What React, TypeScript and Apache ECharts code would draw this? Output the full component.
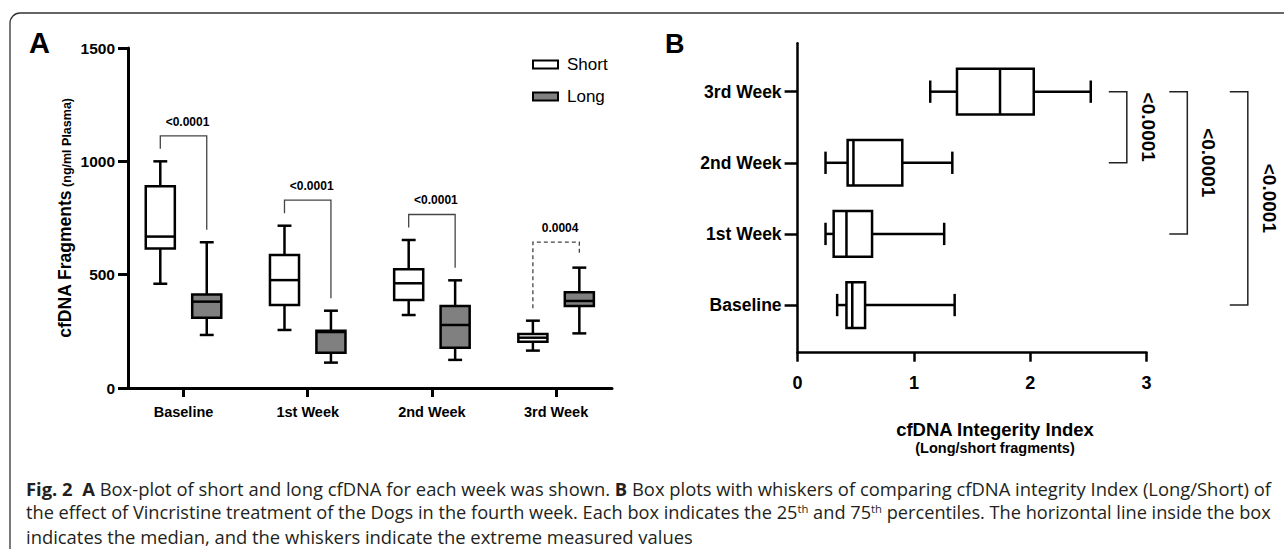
import React, { useEffect, useRef } from 'react';
import * as echarts from 'echarts';

// ---------- data ----------
const weeks = ['Baseline', '1st Week', '2nd Week', '3rd Week'];
const fragmentTicks = { min: 0, max: 1500, step: 500 };
// [min, Q1, median, Q3, max]  (ng/ml plasma)
const shortStats = [
  [460, 615, 668, 890, 1000],
  [256, 366, 476, 587, 716],
  [322, 388, 462, 524, 653],
  [165, 204, 222, 238, 297],
];
const longStats = [
  [234, 310, 381, 413, 643],
  [112, 156, 247, 253, 341],
  [124, 178, 278, 362, 475],
  [241, 362, 384, 422, 531],
];
const pValuesA = ['<0.0001', '<0.0001', '<0.0001', '0.0004'];

// cfDNA integrity index [min, Q1, median, Q3, max]
const integrityStats = [
  [0.34, 0.42, 0.47, 0.58, 1.35],
  [0.24, 0.31, 0.42, 0.64, 1.26],
  [0.24, 0.43, 0.48, 0.9, 1.33],
  [1.14, 1.37, 1.74, 2.03, 2.52],
];
const integrityTicks = [0, 1, 2, 3];
const comparisonsB = [
  [3, 2],
  [3, 1],
  [3, 0],
];
const pValuesB = ['<0.0001', '<0.0001', '<0.0001'];

const captionLines = [
  '{b|Fig. 2}  {b|A} Box-plot of short and long cfDNA for each week was shown. {b|B} Box plots with whiskers of comparing cfDNA integrity Index (Long/Short) of',
  'the effect of Vincristine treatment of the Dogs in the fourth week. Each box indicates the 25{s|th} and 75{s|th} percentiles. The horizontal line inside the box',
  'indicates the median, and the whiskers indicate the extreme measured values',
];

// ---------- styles ----------
const FONT = '"Liberation Sans", Arial, Helvetica, sans-serif';
const CAP_FONT = '"Open Sans", "Noto Sans", sans-serif';
const SUP = 0.62;
const catIdx = weeks.map((_, i) => i);

function boxRenderer(horizontal: boolean, offset: number, halfW: number, capHalf: number, fill: string, lw: number) {
  return (params: any, api: any) => {
    const c = api.value(0) + offset;
    const v = [1, 2, 3, 4, 5].map((i) => api.value(i));
    const P = (pos: number, val: number) => (horizontal ? api.coord([val, pos]) : api.coord([pos, val]));
    const line = (a: number[], b: number[]) => ({
      type: 'line',
      shape: { x1: a[0], y1: a[1], x2: b[0], y2: b[1] },
      style: { stroke: '#000', lineWidth: lw },
    });
    const a = P(c - halfW, v[1]);
    const b = P(c + halfW, v[3]);
    return {
      type: 'group',
      children: [
        line(P(c, v[0]), P(c, v[1])),
        line(P(c, v[3]), P(c, v[4])),
        line(P(c - capHalf, v[0]), P(c + capHalf, v[0])),
        line(P(c - capHalf, v[4]), P(c + capHalf, v[4])),
        {
          type: 'rect',
          shape: {
            x: Math.min(a[0], b[0]),
            y: Math.min(a[1], b[1]),
            width: Math.abs(b[0] - a[0]),
            height: Math.abs(b[1] - a[1]),
          },
          style: { fill, stroke: '#000', lineWidth: lw },
        },
        line(P(c - halfW, v[2]), P(c + halfW, v[2])),
      ],
    };
  };
}

const OFF_A = 0.187;

function bracketARenderer(params: any, api: any) {
  const i = params.dataIndex;
  const c = api.value(0);
  const pS = api.coord([c - OFF_A, api.value(1)]);
  const pL = api.coord([c + OFF_A, api.value(2)]);
  const yS = pS[1] - 12.5;
  const yL = pL[1] - 12.5;
  const top = Math.min(yS, yL) - 13;
  const label = pValuesA[i];
  const dashed = !label.startsWith('<');
  return {
    type: 'group',
    children: [
      {
        type: 'polyline',
        shape: { points: [[pS[0], yS], [pS[0], top], [pL[0], top], [pL[0], yL]] },
        style: { stroke: '#444', lineWidth: 1.3, fill: 'none', lineDash: dashed ? [4, 3] : null },
      },
      {
        type: 'text',
        x: (pS[0] + pL[0]) / 2 + 4,
        y: top - 14,
        style: {
          text: label,
          align: 'center',
          verticalAlign: 'middle',
          fontFamily: FONT,
          fontWeight: 'bold',
          fontSize: 12,
          fill: '#000',
        },
      },
    ],
  };
}

function bracketBRenderer(params: any, api: any) {
  const i = params.dataIndex;
  const from = api.value(0);
  const to = api.value(1);
  const xr = 2.83 + 0.52 * i;
  const xl = xr - 0.155;
  const xt = xr + 0.185;
  const pTopL = api.coord([xl, from]);
  const pTopR = api.coord([xr, from]);
  const pBotR = api.coord([xr, to]);
  const pBotL = api.coord([xl, to]);
  const pText = api.coord([xt, (from + to) / 2]);
  return {
    type: 'group',
    children: [
      {
        type: 'polyline',
        shape: { points: [pTopL, pTopR, pBotR, pBotL] },
        style: { stroke: '#222', lineWidth: 1.5, fill: 'none' },
      },
      {
        type: 'text',
        x: pText[0],
        y: pText[1],
        rotation: -Math.PI / 2,
        style: {
          text: pValuesB[i],
          align: 'center',
          verticalAlign: 'middle',
          fontFamily: FONT,
          fontWeight: 'bold',
          fontSize: 19,
          fill: '#000',
        },
      },
    ],
  };
}

// font size at which a rich caption line fills the target width
function fitSize(line: string, target: number): number {
  try {
    const ctx = document.createElement('canvas').getContext('2d');
    if (!ctx) return 16;
    let width = 0;
    const re = /\{(\w)\|([^}]*)\}|([^{]+)/g;
    let m: RegExpExecArray | null;
    while ((m = re.exec(line))) {
      if (m[3]) {
        ctx.font = `normal 16px ${CAP_FONT}`;
        width += ctx.measureText(m[3]).width;
      } else if (m[1] === 'b') {
        ctx.font = `bold 16px ${CAP_FONT}`;
        width += ctx.measureText(m[2]).width;
      } else {
        ctx.font = `normal ${16 * SUP}px ${CAP_FONT}`;
        width += ctx.measureText(m[2]).width;
      }
    }
    return width > 0 ? (16 * target) / width : 16;
  } catch (e) {
    return 16;
  }
}

export default function App() {
  const ref = useRef<HTMLDivElement>(null);
  useEffect(() => {
    if (!ref.current) return;
    const chart = echarts.init(ref.current, undefined, { renderer: 'svg' });
    const s1 = fitSize(captionLines[0], 1246);
    const s2 = fitSize(captionLines[1], 1246);
    const sizes = [s1, s2, s1];
    const option: any = {
      animation: false,
      backgroundColor: '#fff',
      legend: {
        orient: 'vertical',
        left: 527,
        top: 51,
        itemWidth: 25,
        itemHeight: 8,
        itemGap: 15,
        icon: 'rect',
        selectedMode: false,
        textStyle: { fontFamily: FONT, fontSize: 17, color: '#000', padding: [0, 0, 0, 4] },
        data: [
          { name: 'Short', itemStyle: { color: '#fff', borderColor: '#000', borderWidth: 2 } },
          { name: 'Long', itemStyle: { color: '#808080', borderColor: '#000', borderWidth: 2 } },
        ],
      },
      grid: [
        { left: 128, top: 48, width: 484, height: 340, containLabel: false, outerBoundsMode: 'none' },
        { left: 797.6, top: 43.3, width: 349, height: 309.4, containLabel: false, outerBoundsMode: 'none' },
      ],
      xAxis: [
        {
          gridIndex: 0,
          type: 'value',
          min: -0.447,
          max: 3.45,
          axisLine: { show: true, onZero: false, lineStyle: { color: '#000', width: 3 } },
          axisTick: { show: true, customValues: catIdx, length: 9, lineStyle: { color: '#000', width: 3 } },
          axisLabel: {
            customValues: catIdx,
            formatter: (v: number) => weeks[Math.round(v)] ?? '',
            margin: 16,
            fontFamily: FONT,
            fontWeight: 'bold',
            fontSize: 14.5,
            color: '#000',
          },
          splitLine: { show: false },
        },
        {
          gridIndex: 1,
          type: 'value',
          min: integrityTicks[0],
          max: integrityTicks[integrityTicks.length - 1],
          interval: 1,
          axisLine: { show: true, onZero: false, lineStyle: { color: '#000', width: 2.5 } },
          axisTick: { show: true, length: 9, lineStyle: { color: '#000', width: 2.5 } },
          axisLabel: { margin: 21, fontFamily: FONT, fontWeight: 'bold', fontSize: 18, color: '#000' },
          splitLine: { show: false },
        },
      ],
      yAxis: [
        {
          gridIndex: 0,
          type: 'value',
          min: fragmentTicks.min,
          max: fragmentTicks.max,
          interval: fragmentTicks.step,
          axisLine: { show: true, onZero: false, lineStyle: { color: '#000', width: 3 } },
          axisTick: { show: true, length: 10, lineStyle: { color: '#000', width: 3 } },
          axisLabel: {
            margin: 13,
            formatter: (v: number) => String(v),
            fontFamily: FONT,
            fontWeight: 'bold',
            fontSize: 15.5,
            color: '#000',
          },
          splitLine: { show: false },
          name: '{a|cfDNA Fragments} {b|(ng/ml Plasma)}',
          nameLocation: 'middle',
          nameRotate: 90,
          nameGap: 54,
          nameTextStyle: {
            fontFamily: FONT,
            fontSize: 12,
            fontWeight: 'bold',
            color: '#000',
            rich: {
              a: { fontFamily: FONT, fontSize: 17.5, fontWeight: 'bold', color: '#000', verticalAlign: 'bottom' },
              b: { fontFamily: FONT, fontSize: 12.5, fontWeight: 'bold', color: '#000', verticalAlign: 'bottom', padding: [0, 0, 1, 0] },
            },
          },
        },
        {
          gridIndex: 1,
          type: 'value',
          min: -0.67,
          max: 3.68,
          axisLine: { show: true, onZero: false, lineStyle: { color: '#000', width: 2.5 } },
          axisTick: { show: true, customValues: catIdx, length: 13, lineStyle: { color: '#000', width: 2.5 } },
          axisLabel: {
            customValues: catIdx,
            formatter: (v: number) => weeks[Math.round(v)] ?? '',
            margin: 16,
            fontFamily: FONT,
            fontWeight: 'bold',
            fontSize: 17.5,
            color: '#000',
          },
          splitLine: { show: false },
        },
      ],
      series: [
        {
          name: 'Short',
          type: 'custom',
          xAxisIndex: 0,
          yAxisIndex: 0,
          clip: false,
          itemStyle: { color: '#fff', borderColor: '#000' },
          encode: { x: 0, y: [1, 2, 3, 4, 5] },
          renderItem: boxRenderer(false, -OFF_A, 0.117, 0.056, '#fff', 2.5),
          data: shortStats.map((s, i) => [i, ...s]),
        },
        {
          name: 'Long',
          type: 'custom',
          xAxisIndex: 0,
          yAxisIndex: 0,
          clip: false,
          itemStyle: { color: '#808080', borderColor: '#000' },
          encode: { x: 0, y: [1, 2, 3, 4, 5] },
          renderItem: boxRenderer(false, OFF_A, 0.117, 0.056, '#808080', 2.5),
          data: longStats.map((s, i) => [i, ...s]),
        },
        {
          name: 'pA',
          type: 'custom',
          xAxisIndex: 0,
          yAxisIndex: 0,
          clip: false,
          encode: { x: 0, y: [1, 2] },
          renderItem: bracketARenderer,
          data: weeks.map((_, i) => [i, shortStats[i][4], longStats[i][4]]),
        },
        {
          name: 'Integrity',
          type: 'custom',
          xAxisIndex: 1,
          yAxisIndex: 1,
          clip: false,
          encode: { y: 0, x: [1, 2, 3, 4, 5] },
          renderItem: boxRenderer(true, 0, 0.321, 0.157, '#fff', 2.5),
          data: integrityStats.map((s, i) => [i, ...s]),
        },
        {
          name: 'pB',
          type: 'custom',
          xAxisIndex: 1,
          yAxisIndex: 1,
          clip: false,
          encode: { y: [0, 1] },
          renderItem: bracketBRenderer,
          data: comparisonsB,
        },
      ],
      graphic: [
        {
          type: 'rect',
          shape: { x: 10, y: 13, width: 1400, height: 700, r: 10 },
          style: { fill: 'none', stroke: '#333', lineWidth: 1.3 },
          silent: true,
        },
        {
          type: 'text',
          x: 29,
          y: 43,
          style: { text: 'A', fontFamily: FONT, fontWeight: 'bold', fontSize: 29, fill: '#000', verticalAlign: 'middle' },
        },
        {
          type: 'text',
          x: 665,
          y: 44,
          style: { text: 'B', fontFamily: FONT, fontWeight: 'bold', fontSize: 27, fill: '#000', verticalAlign: 'middle' },
        },
        {
          type: 'text',
          x: 995,
          y: 429,
          style: {
            text: 'cfDNA Integerity Index',
            fontFamily: FONT,
            fontWeight: 'bold',
            fontSize: 18.5,
            fill: '#000',
            align: 'center',
            verticalAlign: 'middle',
          },
        },
        {
          type: 'text',
          x: 995,
          y: 448,
          style: {
            text: '(Long/short fragments)',
            fontFamily: FONT,
            fontWeight: 'bold',
            fontSize: 14.5,
            fill: '#000',
            align: 'center',
            verticalAlign: 'middle',
          },
        },
        ...captionLines.map((t, i) => ({
          type: 'text',
          x: 26,
          y: 488 + i * 24,
          style: {
            text: t,
            fontFamily: CAP_FONT,
            fontSize: sizes[i],
            fill: '#231f20',
            verticalAlign: 'middle',
            rich: {
              b: { fontFamily: CAP_FONT, fontWeight: 'bold', fontSize: sizes[i], fill: '#231f20' },
              s: { fontFamily: CAP_FONT, fontSize: sizes[i] * SUP, fill: '#231f20', verticalAlign: 'top' },
            },
          },
        })),
      ],
    };
    chart.setOption(option);
    return () => chart.dispose();
  }, []);
  return (
    <div
      ref={ref}
      style={{ position: 'fixed', left: 0, top: 0, width: 1284, height: 549, background: '#fff' }}
    />
  );
}
